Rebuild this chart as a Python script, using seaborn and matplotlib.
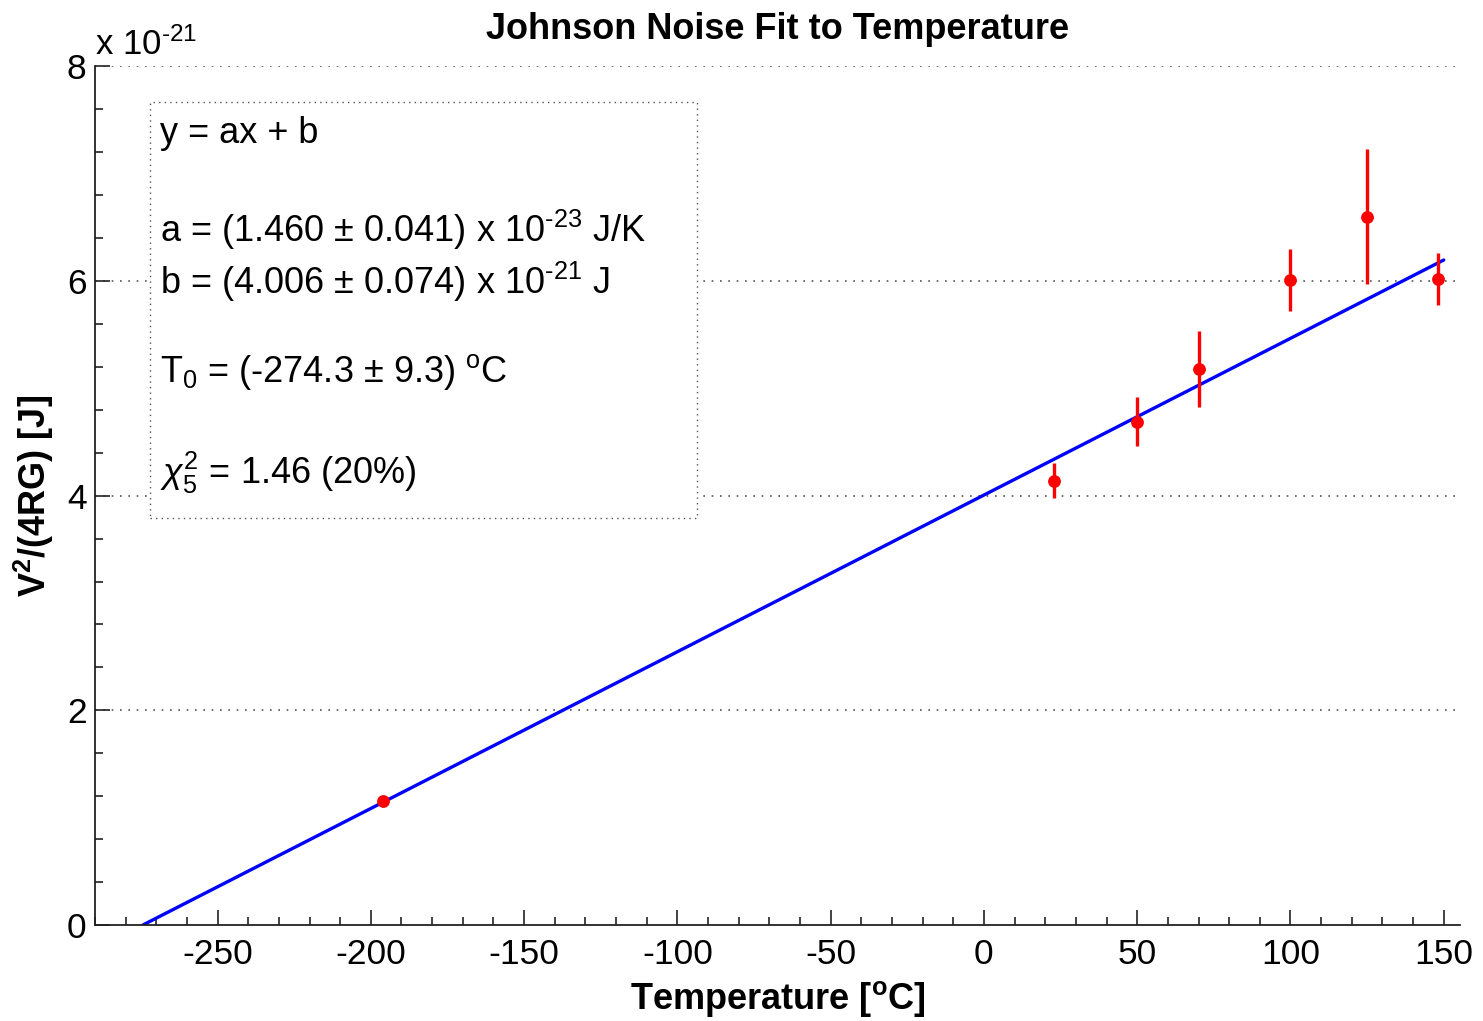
import numpy as np
import pandas as pd
import matplotlib
matplotlib.use("Agg")
import matplotlib.pyplot as plt
from matplotlib.ticker import MultipleLocator
from matplotlib.patches import Rectangle
import seaborn as sns

# ---- data (y in units of 1e-21 J) ----
temp_c = [-196, 23, 50, 70, 100, 125, 148]
noise = [1.155, 4.14, 4.69, 5.18, 6.01, 6.60, 6.02]
noise_err = [0.03, 0.16, 0.23, 0.35, 0.29, 0.63, 0.245]

fit_a = 0.01460   # slope, 1e-21 J per degC
fit_b = 4.006     # intercept, 1e-21 J
fit_x = [-274.3, 150.0]

x_ticks = [-250, -200, -150, -100, -50, 0, 50, 100, 150]
y_ticks = [0, 2, 4, 6, 8]

sns.set_theme(style="white")
plt.rcParams['font.family'] = ['Liberation Sans', 'DejaVu Sans']
plt.rcParams['mathtext.fontset'] = 'custom'
plt.rcParams['mathtext.rm'] = 'Liberation Sans'
plt.rcParams['mathtext.it'] = 'Liberation Sans:italic'
plt.rcParams['mathtext.bf'] = 'Liberation Sans:bold'
plt.rcParams['axes.unicode_minus'] = False
plt.rcParams['text.color'] = 'black'
plt.rcParams['axes.labelcolor'] = 'black'

df = pd.DataFrame({"T": temp_c, "V": noise, "err": noise_err})
fit_df = pd.DataFrame({"T": fit_x, "V": [fit_a * x + fit_b for x in fit_x]})

fig = plt.figure(figsize=(14.83, 10.21), dpi=100)
ax = fig.add_axes([0.064, 0.094, 0.9205, 0.841])

# grid lines (horizontal only)
for yv in y_ticks[1:]:
    ax.axhline(yv, color="#555555", lw=1.2, ls=(0, (1, 4)), zorder=0)

sns.lineplot(data=fit_df, x="T", y="V", color="blue", lw=2.4, ax=ax, zorder=2)
ax.errorbar(df["T"], df["V"], yerr=df["err"], fmt="none", ecolor="red",
            elinewidth=2.4, capsize=0, zorder=3)
sns.scatterplot(data=df, x="T", y="V", color="red", s=85, edgecolor="red",
                linewidth=0, ax=ax, zorder=4)

ax.set_xlim(-290.0, 155.3)
ax.set_ylim(0, 8)
ax.set_xticks(x_ticks)
ax.set_yticks(y_ticks)
ax.xaxis.set_minor_locator(MultipleLocator(10))
ax.yaxis.set_minor_locator(MultipleLocator(0.4))
ax.tick_params(which="both", direction="in", colors="#222222", labelcolor="black",
               labelsize=25.5, width=1.2)
ax.tick_params(which="major", length=11)
ax.tick_params(which="minor", length=6)
ax.tick_params(axis="x", pad=9)
ax.tick_params(axis="y", pad=6)
ax.xaxis.set_ticks_position("bottom")
ax.yaxis.set_ticks_position("left")

for s in ["top", "right"]:
    ax.spines[s].set_visible(False)
for s in ["left", "bottom"]:
    ax.spines[s].set_color("#222222")
    ax.spines[s].set_linewidth(1.3)

ax.set_xlabel(r"Temperature [$^{\mathbf{o}}$C]", fontsize=26, fontweight="bold", labelpad=6)
ax.set_ylabel(r"V$^{\mathbf{2}}$/(4RG) [J]", fontsize=26, fontweight="bold", labelpad=8)
ax.set_title("Johnson Noise Fit to Temperature", fontsize=26, fontweight="bold", pad=20)

ax.text(0.0, 1.005, r"x 10$^{\text{-21}}$", transform=ax.transAxes, fontsize=25,
        ha="left", va="bottom")

# annotation box
box = Rectangle((0.040, 0.474), 0.401, 0.484, transform=ax.transAxes,
                facecolor="white", edgecolor="#555555", lw=1.0, ls=(0, (1, 3)),
                zorder=1)
ax.add_patch(box)
fs = 26
tx = 0.048
ax.text(tx, 0.922, "y = ax + b", transform=ax.transAxes, fontsize=fs, va="center", zorder=6)
ax.text(tx, 0.810, r"a = (1.460 $\pm$ 0.041) x 10$^{\text{-23}}$ J/K", transform=ax.transAxes,
        fontsize=fs, va="center", zorder=6)
ax.text(tx, 0.749, r"b = (4.006 $\pm$ 0.074) x 10$^{\text{-21}}$ J", transform=ax.transAxes,
        fontsize=fs, va="center", zorder=6)
ax.text(tx, 0.644, r"T$_0$ = (-274.3 $\pm$ 9.3) $^{\mathrm{o}}$C", transform=ax.transAxes,
        fontsize=fs, va="center", zorder=6)
ax.text(tx, 0.526, r"$\chi^2_5$ = 1.46 (20%)", transform=ax.transAxes,
        fontsize=fs, va="center", zorder=6)

fig.savefig("out.png", dpi=100)
